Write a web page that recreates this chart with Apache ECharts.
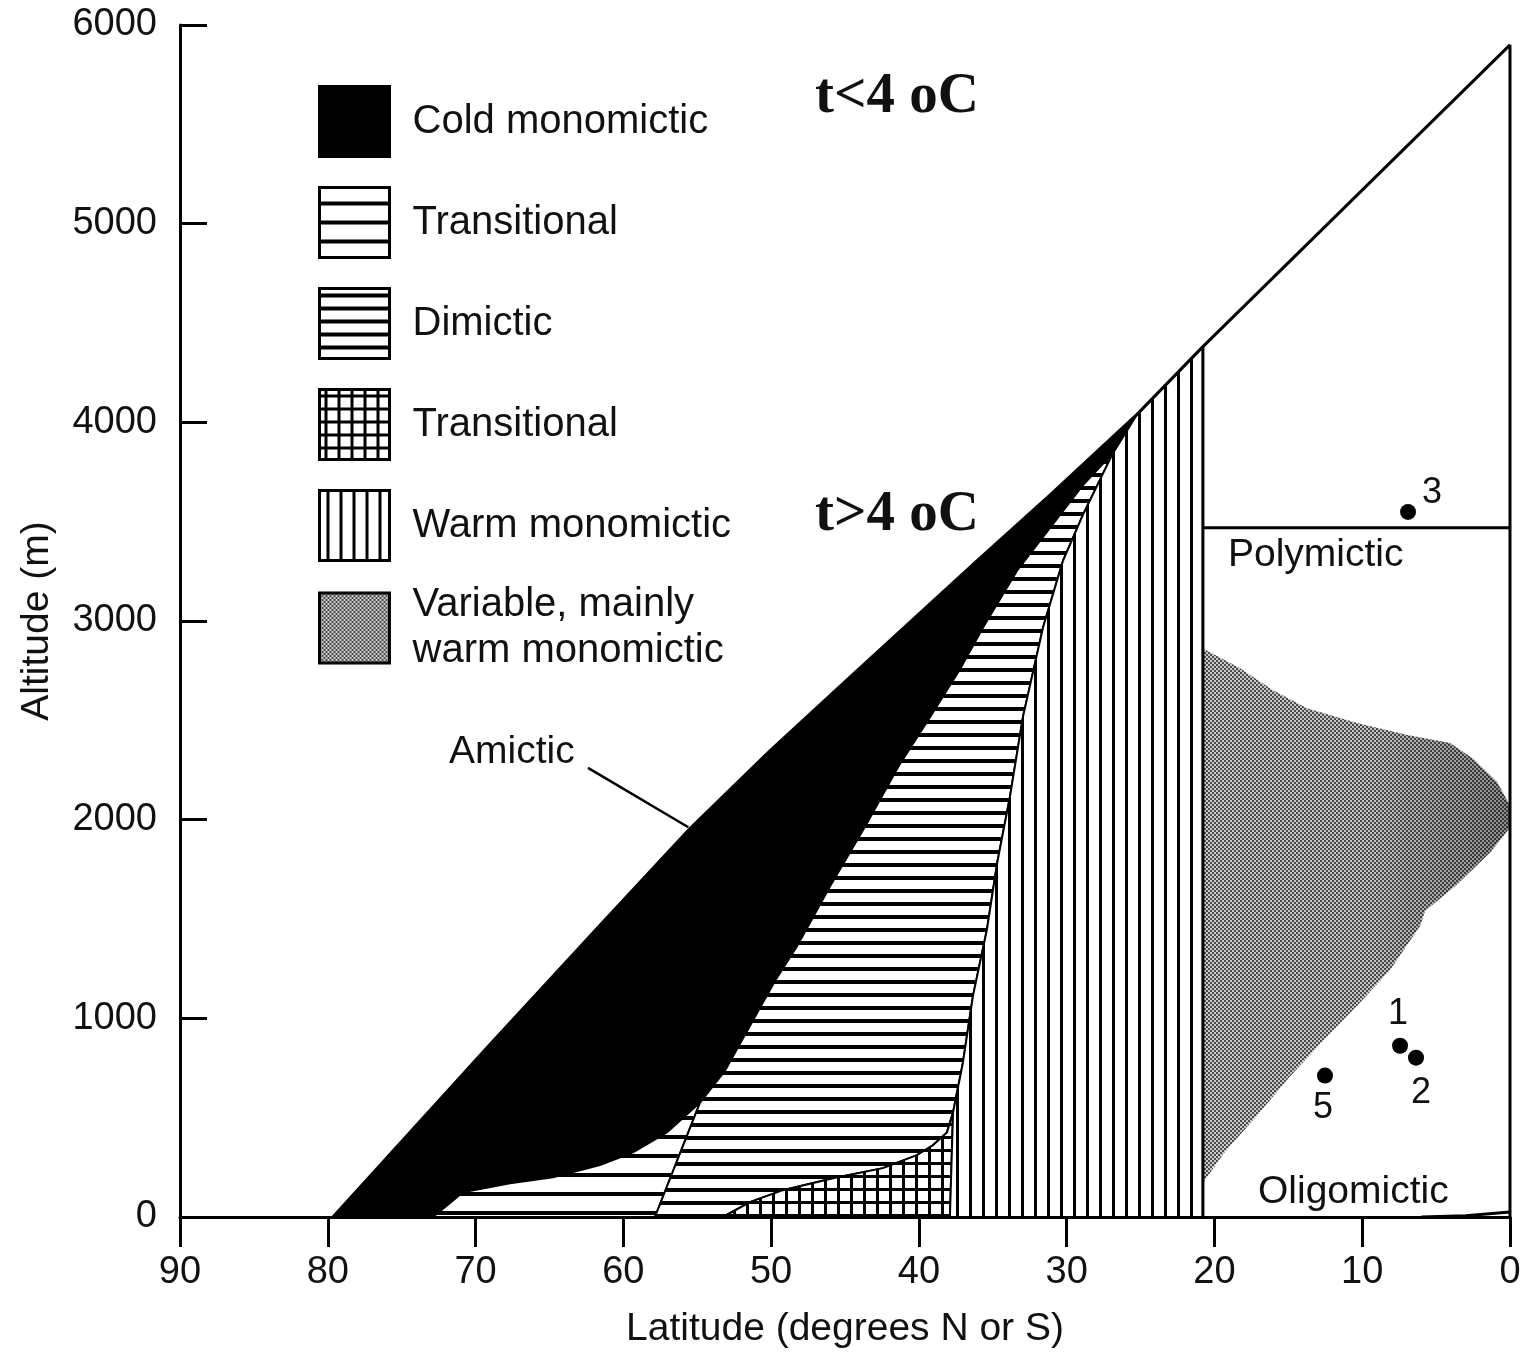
<!DOCTYPE html>
<html>
<head>
<meta charset="utf-8">
<script src="https://cdn.jsdelivr.net/npm/echarts@6/dist/echarts.min.js"></script>
<style>
  html, body { margin: 0; padding: 0; background: #fff; }
  #chart { width: 1526px; height: 1354px; }
</style>
</head>
<body>
<div id="chart"></div>
<script>
// Thermal mixing regimes of lakes by latitude and altitude.
const SANS = '"Liberation Sans", Arial, Helvetica, sans-serif';
const SERIF = '"Liberation Serif", "Times New Roman", serif';

// Upper limit of lakes, [latitude, altitude m]
const skyline = [[79.65, 0], [69.23, 852], [61.58, 1469], [55.49, 1955], [50.08, 2346], [44.66, 2717],
  [36.07, 3303], [31.13, 3634], [25.24, 4040], [20.78, 4381], [0, 5900]];

// Lower edge of the cold monomictic zone, from sea level upward
const coldLower = [[72.88, 0], [70.85, 125], [67.67, 170], [64.76, 200], [61.58, 261], [59.35, 326],
  [57.05, 426], [54.81, 576], [53.12, 737], [51.43, 962], [49.74, 1188], [48.25, 1363], [46.02, 1664],
  [43.65, 1965], [41.28, 2281], [39.25, 2516], [37.22, 2757], [35.66, 2967], [33.36, 3253],
  [31.13, 3469], [28.90, 3684], [26.87, 3845]];

// Edge between dimictic and warm monomictic, from its base upward
const warmEdge = [[37.69, 526], [37.02, 777], [36.34, 1113], [35.39, 1449], [34.71, 1779], [33.84, 2115],
  [32.96, 2516], [31.60, 2967], [30.25, 3303], [28.90, 3534], [26.87, 3845]];

// Upper edge of the lower transitional zone, from sea level to its top
const gridTop = [[53.26, 0], [51.43, 75], [49.20, 135], [45.81, 195], [42.43, 246], [40.13, 311],
  [39.05, 361], [38.10, 426], [37.69, 526]];

const transSplitLat = 57.86;   // base of the line between the two horizontally hatched zones
const gridRightLat = 37.90;    // equatorward limit of the lower transitional zone
const tropicLat = 20.78;       // vertical divider of the tropical block
const polymicticAlt = 3469;    // polymictic lakes lie above this altitude

// Variable, mainly warm monomictic zone
const variableTop = [[20.78, 2862], [18.27, 2762], [16.04, 2652], [13.74, 2561], [10.35, 2486],
  [6.97, 2426], [4.06, 2386], [2.50, 2306], [0.88, 2190], [0, 2070], [0, 1960]];
const variableBottom = [[1.35, 1835], [3.59, 1674], [5.75, 1540], [6.09, 1465], [8.12, 1243],
  [10.35, 1063], [12.65, 887], [14.89, 707], [17.12, 511], [19.42, 316], [20.78, 170]];

// Rise of the sea-level line at the equator
const equatorBase = [[6, 0], [3, 6], [0, 25]];

// Individual lakes
const lakeIds = ['1', '2', '3', '5'];
const lakeLat = [7.44, 6.36, 6.90, 12.52];
const lakeAlt = [862, 802, 3549, 712];

// Pointer from the "Amictic" label to the upper limit
const amicticPointer = [[62.39, 2261], [55.6, 1962]];

// ---- fills ----
function tile(w, h, draw) {
  const c = document.createElement('canvas');
  c.width = w; c.height = h;
  const g = c.getContext('2d');
  g.fillStyle = '#fff';
  g.fillRect(0, 0, w, h);
  g.fillStyle = '#000';
  draw(g);
  return { image: c, repeat: 'repeat' };
}
const fillSolid = '#000';
const fillWideH = tile(19, 19, g => g.fillRect(0, 14, 19, 4));
const fillDenseH = tile(13, 13, g => g.fillRect(0, 5, 13, 4));
const fillGrid = tile(13, 13, g => { g.fillRect(0, 5, 13, 3); g.fillRect(5, 0, 3, 13); });
const fillVert = tile(13, 13, g => g.fillRect(7, 0, 3, 13));
const fillStipple = (function () {
  const c = document.createElement('canvas');
  c.width = 4; c.height = 4;
  const g = c.getContext('2d');
  g.fillStyle = '#cbcbcb'; g.fillRect(0, 0, 4, 4);
  g.fillStyle = '#4c4c4c'; g.fillRect(0, 0, 2, 2); g.fillRect(2, 2, 2, 2);
  return { image: c, repeat: 'repeat' };
})();

// ---- regions built from the shared boundaries ----
const coldZone = skyline.slice(0, 9).concat(coldLower.slice().reverse());
const upperTransZone = coldLower.slice(0, 8).concat([[transSplitLat, 0]]);
const dimicticZone = [[transSplitLat, 0]].concat(
  coldLower.slice(7), warmEdge.slice(0, -1).reverse(), gridTop.slice(0, -1).reverse());
const lowerTransZone = gridTop.concat([[gridRightLat, 0]]);
const warmZone = [skyline[8], skyline[9], [tropicLat, 0], [gridRightLat, 0]].concat(warmEdge);
const variableZone = variableTop.concat(variableBottom);

const regions = [
  { name: 'Cold monomictic', points: coldZone, fill: fillSolid, stroke: false },
  { name: 'Transitional', points: upperTransZone, fill: fillWideH, stroke: true },
  { name: 'Dimictic', points: dimicticZone, fill: fillDenseH, stroke: true },
  { name: 'Transitional ', points: lowerTransZone, fill: fillGrid, stroke: true },
  { name: 'Warm monomictic', points: warmZone, fill: fillVert, stroke: true },
  { name: 'Variable, mainly\nwarm monomictic', points: variableZone, fill: fillStipple, stroke: false, shade: true }
];

const regionSeries = regions.map(r => ({
  type: 'custom',
  name: r.name,
  coordinateSystem: 'cartesian2d',
  data: [r.points[0]],
  itemStyle: { color: r.fill },
  silent: true,
  clip: false,
  z: 2,
  renderItem: function (params, api) {
    const pts = r.points.map(p => api.coord(p));
    const children = [{
      type: 'polygon',
      shape: { points: pts },
      style: { fill: r.fill, stroke: r.stroke ? '#000' : null, lineWidth: 2 }
    }];
    if (r.shade) {
      children.push({
        type: 'polygon',
        shape: { points: pts },
        style: {
          fill: {
            type: 'linear', x: 0, y: 0, x2: 1, y2: 0,
            colorStops: [
              { offset: 0, color: 'rgba(0,0,0,0)' },
              { offset: 0.55, color: 'rgba(0,0,0,0.04)' },
              { offset: 1, color: 'rgba(0,0,0,0.32)' }
            ]
          }
        }
      });
    }
    return { type: 'group', children: children };
  }
}));

function outline(data, width) {
  return {
    type: 'line', data: data, symbol: 'none', silent: true, clip: false, z: 5,
    lineStyle: { color: '#000', width: width || 3 }
  };
}

const lakeLabelOffset = [[-2, -32], [5, 35], [24, -19], [-2, 33]];

const legendBase = {
  orient: 'vertical', left: 318, padding: 0,
  itemWidth: 70, itemHeight: 70, itemGap: 28, icon: 'rect',
  selectedMode: false,
  itemStyle: { borderColor: '#000', borderWidth: 3 },
  textStyle: { fontSize: 40, color: '#111', fontFamily: SANS, lineHeight: 46, padding: [0, 0, 0, 18] },
  formatter: name => name.trim()
};

const chart = echarts.init(document.getElementById('chart'), null, { renderer: 'canvas' });
chart.setOption({
  backgroundColor: '#fff',
  animation: false,
  textStyle: { fontFamily: SANS },
  grid: { left: 180, right: 16, top: 25, bottom: 132 },
  xAxis: {
    type: 'value', min: 0, max: 90, interval: 10, inverse: true,
    name: 'Latitude (degrees N or S)', nameLocation: 'middle', nameGap: 93,
    nameTextStyle: { fontSize: 39, color: '#111', fontFamily: SANS },
    axisLine: { lineStyle: { color: '#000', width: 3 } },
    axisTick: { length: 30, lineStyle: { color: '#000', width: 3 } },
    axisLabel: { margin: 37, fontSize: 38, color: '#111', fontFamily: SANS },
    splitLine: { show: false }
  },
  yAxis: {
    type: 'value', min: 0, max: 6000, interval: 1000,
    name: 'Altitude (m)', nameLocation: 'middle', nameGap: 123, nameRotate: 90,
    nameTextStyle: { fontSize: 39, color: '#111', fontFamily: SANS },
    axisLine: { show: true, onZero: false, lineStyle: { color: '#000', width: 3 } },
    axisTick: { show: true, inside: true, length: 27, lineStyle: { color: '#000', width: 3 } },
    axisLabel: { margin: 23, fontSize: 38, color: '#111', fontFamily: SANS, formatter: v => String(v) },
    splitLine: { show: false }
  },
  legend: [
    Object.assign({}, legendBase, { top: 85, data: regions.slice(0, 5).map(r => r.name) }),
    Object.assign({}, legendBase, { top: 582, data: regions.slice(5).map(r => r.name) })
  ],
  graphic: [
    { type: 'text', x: 815, y: 97, z: 10, style: { text: 't<4 oC', font: 'bold 57px ' + SERIF, fill: '#111', verticalAlign: 'middle' } },
    { type: 'text', x: 815, y: 515, z: 10, style: { text: 't>4 oC', font: 'bold 57px ' + SERIF, fill: '#111', verticalAlign: 'middle' } },
    { type: 'text', x: 449, y: 752, z: 10, style: { text: 'Amictic', font: '39px ' + SANS, fill: '#111', verticalAlign: 'middle' } },
    { type: 'text', x: 1228, y: 555, z: 10, style: { text: 'Polymictic', font: '39px ' + SANS, fill: '#111', verticalAlign: 'middle' } },
    { type: 'text', x: 1258, y: 1192, z: 10, style: { text: 'Oligomictic', font: '39px ' + SANS, fill: '#111', verticalAlign: 'middle' } }
  ],
  series: regionSeries.concat([
    outline(skyline),
    outline([[0, 5900], [0, 0]]),
    outline([[tropicLat, skyline[9][1]], [tropicLat, 0]]),
    outline([[tropicLat, polymicticAlt], [0, polymicticAlt]]),
    outline(equatorBase),
    outline(amicticPointer, 2.5),
    {
      type: 'scatter', z: 6, silent: true, symbolSize: 16,
      itemStyle: { color: '#000', opacity: 1 },
      label: {
        show: true, position: 'inside', fontSize: 36, color: '#111', fontFamily: SANS,
        formatter: p => p.name
      },
      data: lakeLat.map((lat, i) => ({
        name: lakeIds[i],
        value: [lat, lakeAlt[i]],
        label: { offset: lakeLabelOffset[i] }
      }))
    }
  ])
});
</script>
</body>
</html>
